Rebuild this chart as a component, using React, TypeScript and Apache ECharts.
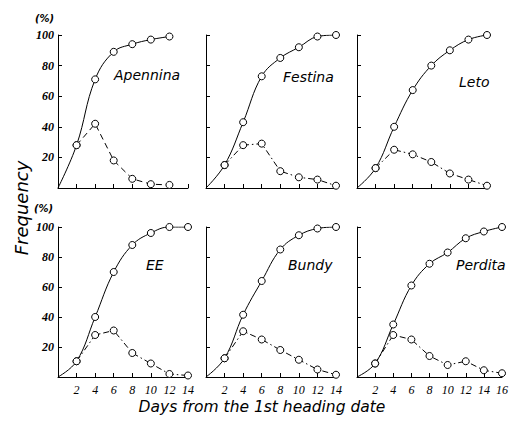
import React, { useEffect, useRef } from "react";
import * as echarts from "echarts";

const panelNames = ["Apennina", "Festina", "Leto", "EE", "Bundy", "Perdita"];

const apenninaDays = [0, 2, 4, 6, 8, 10, 12];
const apenninaCum = [0, 28, 71, 89, 94, 97, 99];
const apenninaFreq = [28, 42, 18, 6, 2.5, 2];

const festinaDays = [0, 2, 4, 6, 8, 10, 12, 14];
const festinaCum = [0, 15, 43, 73, 85, 92, 99, 100];
const festinaFreq = [15, 28, 29, 11, 7, 5.5, 1.5];

const letoDays = [0, 2, 4, 6, 8, 10, 12, 14];
const letoCum = [0, 13, 40, 64, 80, 90, 97, 100];
const letoFreq = [13, 25, 22, 17, 9.5, 5.5, 1.5];

const eeDays = [0, 2, 4, 6, 8, 10, 12, 14];
const eeCum = [0, 10.5, 40, 70, 88, 96, 100, 100];
const eeFreq = [10.5, 28, 31, 16, 9, 2, 1];

const bundyDays = [0, 2, 4, 6, 8, 10, 12, 14];
const bundyCum = [0, 12.5, 41.5, 64, 85, 94.5, 99, 100];
const bundyFreq = [12.5, 30.5, 25, 18, 11.5, 5, 1.5];

const perditaDays = [0, 2, 4, 6, 8, 10, 12, 14, 16];
const perditaCum = [0, 9, 35, 61, 75.5, 83, 92.5, 97, 100];
const perditaFreq = [9, 28, 25, 14, 8, 10.5, 4.5, 2.5];

const yTicks = [20, 40, 60, 80, 100];
const xMaxes = [14, 14, 14, 14, 14, 16];

const panels = [
  { days: apenninaDays, cum: apenninaCum, freq: apenninaFreq },
  { days: festinaDays, cum: festinaCum, freq: festinaFreq },
  { days: letoDays, cum: letoCum, freq: letoFreq },
  { days: eeDays, cum: eeCum, freq: eeFreq },
  { days: bundyDays, cum: bundyCum, freq: bundyFreq },
  { days: perditaDays, cum: perditaCum, freq: perditaFreq },
];

const FONT = "DejaVu Sans";

export default function App() {
  const ref = useRef<HTMLDivElement>(null);
  useEffect(() => {
    if (!ref.current) return;
    const chart = echarts.init(ref.current, null, { renderer: "svg" });
    const lefts = [58, 206, 357];
    const widthsBase = 130;
    const grids: any[] = [];
    const xAxes: any[] = [];
    const yAxes: any[] = [];
    const series: any[] = [];
    panels.forEach((p, i) => {
      const row = Math.floor(i / 3);
      const col = i % 3;
      const xMax = xMaxes[i];
      grids.push({
        left: lefts[col],
        top: row === 0 ? 35 : 227,
        width: widthsBase * (xMax / 14),
        height: row === 0 ? 153 : 150,
        containLabel: false,
      });
      xAxes.push({
        type: "value",
        gridIndex: i,
        min: 0,
        max: xMax,
        interval: 2,
        axisLine: { show: true, lineStyle: { color: "#000", width: 1 } },
        axisTick: { show: true, inside: true, length: 4, lineStyle: { color: "#000" } },
        splitLine: { show: false },
        axisLabel: {
          show: row === 1,
          formatter: (v: number) => (v === 0 ? "" : String(v)),
          color: "#000",
          fontFamily: "Liberation Sans Narrow",
          fontStyle: "italic",
          fontSize: 12,
          margin: 7,
        },
      });
      yAxes.push({
        type: "value",
        gridIndex: i,
        min: 0,
        max: 100,
        interval: 20,
        axisLine: { show: true, lineStyle: { color: "#000", width: 1 } },
        axisTick: { show: true, inside: true, length: 4, lineStyle: { color: "#000" } },
        splitLine: { show: false },
        axisLabel: {
          show: col === 0,
          formatter: (v: number) => (yTicks.includes(v) ? String(v) : ""),
          color: "#000",
          fontFamily: "Liberation Sans Narrow",
          fontStyle: "italic",
          fontWeight: "bold",
          fontSize: 12,
          margin: 4,
        },
      });
      const cumData = p.days.map((d, k) =>
        k === 0 ? { value: [d, p.cum[k]], symbol: "none" } : { value: [d, p.cum[k]] }
      );
      const freqData = p.freq.map((v, k) => [p.days[k + 1], v]);
      series.push({
        type: "line",
        xAxisIndex: i,
        yAxisIndex: i,
        data: cumData,
        smooth: 0.4,
        symbol: "circle",
        symbolSize: 7,
        itemStyle: { color: "#fff", borderColor: "#000", borderWidth: 1 },
        lineStyle: { color: "#000", width: 1 },
        z: 3,
      });
      series.push({
        type: "line",
        xAxisIndex: i,
        yAxisIndex: i,
        data: freqData,
        symbol: "circle",
        symbolSize: 7,
        itemStyle: { color: "#fff", borderColor: "#000", borderWidth: 1 },
        lineStyle: { color: "#000", width: 1, type: i === 0 ? [6, 4] : [6, 3, 1.5, 3] },
        z: 2,
      });
    });
    const nameText = (name: string, x: number, y: number) => ({
      type: "text",
      x,
      y,
      style: {
        text: name,
        fill: "#000",
        font: `italic 14px ${FONT}`,
        textVerticalAlign: "middle",
      },
    });
    chart.setOption({
      animation: false,
      grid: grids,
      xAxis: xAxes,
      yAxis: yAxes,
      series,
      graphic: [
        nameText(panelNames[0], 114, 75),
        nameText(panelNames[1], 283, 77),
        nameText(panelNames[2], 459, 82),
        nameText(panelNames[3], 146, 265),
        nameText(panelNames[4], 288, 265),
        nameText(panelNames[5], 456, 265),
        {
          type: "text",
          x: 35,
          y: 18,
          style: { text: "(%)", fill: "#000", font: `italic bold 10px ${FONT}`, textVerticalAlign: "middle" },
        },
        {
          type: "text",
          x: 34,
          y: 208,
          style: { text: "(%)", fill: "#000", font: `italic bold 10px ${FONT}`, textVerticalAlign: "middle" },
        },
        {
          type: "text",
          x: 21,
          y: 208,
          rotation: Math.PI / 2,
          style: {
            text: "Frequency",
            fill: "#000",
            font: `italic 18px ${FONT}`,
            textAlign: "center",
            textVerticalAlign: "middle",
          },
        },
        {
          type: "text",
          x: 262,
          y: 407,
          style: {
            text: "Days from the 1st heading date",
            fill: "#000",
            font: `italic 15.5px ${FONT}`,
            textAlign: "center",
            textVerticalAlign: "middle",
          },
        },
      ],
    });
    return () => chart.dispose();
  }, []);
  return <div ref={ref} style={{ width: 511, height: 421, position: "absolute", left: 0, top: 0 }} />;
}
